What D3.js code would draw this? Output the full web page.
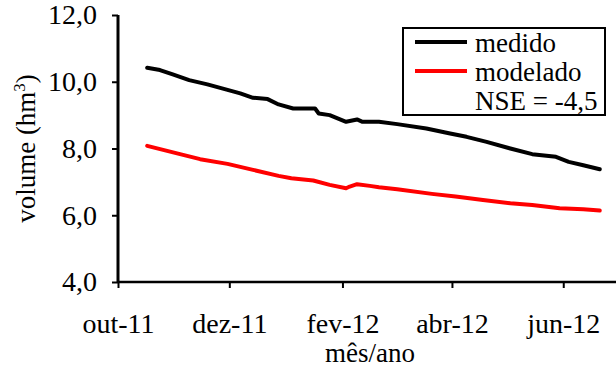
<!DOCTYPE html>
<html>
<head>
<meta charset="utf-8">
<script src="https://d3js.org/d3.v7.min.js"></script>
</head>
<body style="margin:0; background:#fff">
<div id="chart"></div>
<script>
// Daten
var datasMedido = ["2011-10-17", "2011-10-24", "2011-10-31", "2011-11-09", "2011-11-19", "2011-11-27",
    "2011-12-07", "2011-12-14", "2011-12-22", "2011-12-28", "2012-01-05", "2012-01-17", "2012-01-19",
    "2012-01-25", "2012-02-03", "2012-02-09", "2012-02-12", "2012-02-21", "2012-03-02", "2012-03-18",
    "2012-03-31", "2012-04-09", "2012-04-20", "2012-05-03", "2012-05-15", "2012-05-28", "2012-06-04",
    "2012-06-12", "2012-06-21"];
var medido = [10.42, 10.35, 10.22, 10.05, 9.92, 9.80, 9.65, 9.52, 9.48, 9.32, 9.20, 9.20, 9.05,
    9.00, 8.80, 8.87, 8.80, 8.80, 8.73, 8.60, 8.45, 8.35, 8.20, 8.00, 7.83, 7.75, 7.60, 7.50, 7.38];

var datasModelado = ["2011-10-17", "2011-11-04", "2011-11-15", "2011-11-30", "2011-12-14", "2011-12-28",
    "2012-01-04", "2012-01-16", "2012-01-25", "2012-02-03", "2012-02-05", "2012-02-09", "2012-02-16",
    "2012-02-21", "2012-03-02", "2012-03-21", "2012-04-03", "2012-04-18", "2012-05-03", "2012-05-15",
    "2012-05-30", "2012-06-12", "2012-06-21"];
var modelado = [8.08, 7.83, 7.68, 7.54, 7.36, 7.18, 7.11, 7.04, 6.91, 6.81, 6.86, 6.93, 6.88,
    6.84, 6.78, 6.64, 6.56, 6.46, 6.36, 6.31, 6.21, 6.18, 6.14];

var yTicks = [4, 6, 8, 10, 12];
var xTicks = ["2011-10-01", "2011-12-01", "2012-02-01", "2012-04-01", "2012-06-01"];
var mesesPt = ["jan", "fev", "mar", "abr", "mai", "jun", "jul", "ago", "set", "out", "nov", "dez"];
var legenda = ["medido", "modelado"];
var nse = "NSE = -4,5";

var FONT = "Liberation Serif";
var parse = d3.timeParse("%Y-%m-%d");
var W = 616, H = 372;
var margin = { top: 15, right: -2, bottom: 90, left: 118 };

var svg = d3.select("#chart").append("svg")
    .attr("width", W).attr("height", H);

var x = d3.scaleTime()
    .domain([parse("2011-10-01"), parse("2012-07-01")])
    .range([margin.left, W - margin.right]);
var y = d3.scaleLinear()
    .domain([4, 12])
    .range([H - margin.bottom, margin.top]);

// Achsen
var xAxis = svg.append("g")
    .attr("transform", "translate(0," + y(4) + ")")
    .call(d3.axisBottom(x)
        .tickValues(xTicks.map(parse))
        .tickSize(6)
        .tickPadding(25)
        .tickFormat(function(d) { return mesesPt[d.getMonth()] + "-" + d3.timeFormat("%y")(d); }));
xAxis.select(".domain").attr("stroke-width", 2.5).attr("d", "M" + x.range()[0] + ",0H" + x.range()[1]);
xAxis.selectAll(".tick line").attr("stroke-width", 2);
xAxis.selectAll(".tick text").attr("font-family", FONT).attr("font-size", 28).attr("fill", "#000");

var yAxis = svg.append("g")
    .attr("transform", "translate(" + margin.left + ",0)")
    .call(d3.axisLeft(y)
        .tickValues(yTicks)
        .tickSize(6)
        .tickPadding(15)
        .tickFormat(function(d) { return d3.format(".1f")(d).replace(".", ","); }));
yAxis.select(".domain").attr("stroke-width", 3).attr("d", "M0," + y(12) + "V" + y(4));
yAxis.selectAll(".tick line").attr("stroke-width", 2);
yAxis.selectAll(".tick text").attr("font-family", FONT).attr("font-size", 28).attr("fill", "#000");

// Achsentitel
svg.append("text")
    .attr("transform", "translate(35," + ((y(4) + y(12)) / 2) + ") rotate(-90)")
    .attr("text-anchor", "middle")
    .attr("font-family", FONT)
    .attr("font-size", 27)
    .html("volume (hm<tspan dy='-10' font-size='17'>3</tspan><tspan dy='10'>)</tspan>");

svg.append("text")
    .attr("x", 370).attr("y", 362)
    .attr("text-anchor", "middle")
    .attr("font-family", FONT)
    .attr("font-size", 27)
    .text("mês/ano");

// Linien
var line = d3.line()
    .x(function(d) { return x(d[0]); })
    .y(function(d) { return y(d[1]); });

var series = [
    { pts: datasMedido.map(function(d, i) { return [parse(d), medido[i]]; }), color: "#000" },
    { pts: datasModelado.map(function(d, i) { return [parse(d), modelado[i]]; }), color: "#ff0000" }
];

svg.selectAll(".serie")
    .data(series)
    .enter()
    .append("path")
    .attr("class", "serie")
    .attr("d", function(d) { return line(d.pts); })
    .attr("fill", "none")
    .attr("stroke", function(d) { return d.color; })
    .attr("stroke-width", 4)
    .attr("stroke-linejoin", "round")
    .attr("stroke-linecap", "round");

// Legende
var leg = svg.append("g");
leg.append("rect")
    .attr("x", 403).attr("y", 28)
    .attr("width", 202).attr("height", 87)
    .attr("fill", "#fff").attr("stroke", "#000").attr("stroke-width", 2);

legenda.forEach(function(nome, i) {
    leg.append("line")
        .attr("x1", 415).attr("x2", 467)
        .attr("y1", 42 + i * 29).attr("y2", 42 + i * 29)
        .attr("stroke", series[i].color).attr("stroke-width", 4);
    leg.append("text")
        .attr("x", 475).attr("y", 52 + i * 29)
        .attr("font-family", FONT)
        .attr("font-size", 27)
        .text(nome);
});
leg.append("text")
    .attr("x", 475).attr("y", 110)
    .attr("font-family", FONT)
    .attr("font-size", 27)
    .text(nse);
</script>
</body>
</html>
